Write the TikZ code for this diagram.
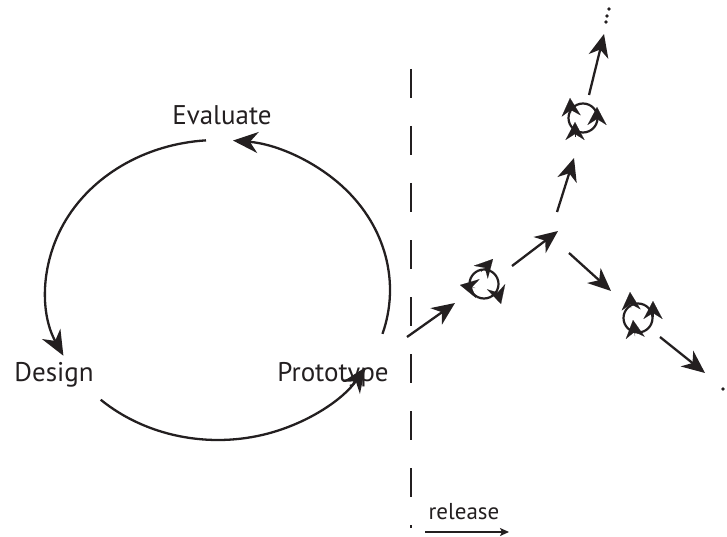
\documentclass[tikz,border=0pt]{standalone}
\usepackage{fontspec}
\setmainfont{PT Sans}
\usetikzlibrary{arrows.meta}
\definecolor{ink}{RGB}{35,31,32}
\tikzset{
  lbl/.style={anchor=base, inner sep=0pt, text=ink, font=\fontsize{27}{30}\selectfont},
  cyclearc/.style={draw=ink, line width=2.3pt, -{Stealth[length=25pt,width=21pt,inset=8pt]}},
  flow/.style={draw=ink, line width=2.3pt, -{Stealth[length=23pt,width=20pt,inset=7pt]}},
  iconring/.style={circle, draw=ink, line width=2.2pt, minimum size=29pt, inner sep=0pt},
  iconhead/.style={draw=ink, fill=ink, line width=0.1pt, -{Stealth[length=18pt,width=19pt,inset=6pt]}},
  dot/.style={circle, fill=ink, inner sep=0pt, minimum size=3.8pt},
}
\begin{document}
\begin{tikzpicture}[x=1pt,y=-1pt]
\useasboundingbox (0,0) rectangle (727,537);

% the design cycle
\node[lbl] (evaluate) at (222,125) {Evaluate};
\node[lbl] (design) at (54,381) {Design};
\node[lbl] (prototype) at (333,381) {Prototype};

\draw[cyclearc] (218,290) ++(266:172 and 150) arc[start angle=266, end angle=154, x radius=172, y radius=150];
\draw[cyclearc] (218,290) ++(133:172 and 150) arc[start angle=133, end angle=31, x radius=172, y radius=150];
\draw[cyclearc] (218,290) ++(17:172 and 150) arc[start angle=17, end angle=-85, x radius=172, y radius=150];

% release line
\draw[draw=ink, line width=2.2pt, dash pattern=on 29pt off 28pt] (411,69) -- (411,528);
\node[lbl, font=\fontsize{23}{26}\selectfont] (release) at (464,519) {release};
\coordinate (relA) at (425,532);
\coordinate (relB) at (509,532);
\draw[draw=ink, line width=1.4pt, -{Stealth[length=9pt,width=8pt,inset=2pt]}] (relA) -- (relB);

% iteration rings
\node[iconring] (ring1) at (484,284) {};
\node[iconring] (ring2) at (583,118) {};
\node[iconring] (ring3) at (638,318) {};

\draw[iconhead] (481,272) -- (493,259);
\draw[iconhead] (475,288) -- (460,285);
\draw[iconhead] (497,290) -- (501,304);

\draw[iconhead] (571,113) -- (570,98);
\draw[iconhead] (597,122) -- (597,107);
\draw[iconhead] (575,137) -- (575,122);

\draw[iconhead] (631,308) -- (630,292);
\draw[iconhead] (653,317) -- (653,301);
\draw[iconhead] (635,336) -- (633,320);

% branching releases
\coordinate (start) at (407,337);
\coordinate (in1) at (455,303);
\coordinate (out1) at (512,266);
\coordinate (fork) at (558,231);
\coordinate (up0) at (557,212);
\coordinate (in2) at (574,158);
\coordinate (out2) at (589,95);
\coordinate (top) at (604,34);
\coordinate (dn0) at (569,253);
\coordinate (in3) at (611,291);
\coordinate (out3) at (660,337);
\coordinate (end3) at (705,373);

\draw[flow] (start) -- (in1);
\draw[flow] (out1) -- (fork);
\draw[flow] (up0) -- (in2);
\draw[flow] (out2) -- (top);
\draw[flow] (dn0) -- (in3);
\draw[flow] (out3) -- (end3);

\node[dot] (d1) at (609,9) {};
\node[dot] (d2) at (607,16) {};
\node[dot] (d3) at (606,22) {};
\node[dot] (d4) at (723,389) {};
\end{tikzpicture}
\end{document}
